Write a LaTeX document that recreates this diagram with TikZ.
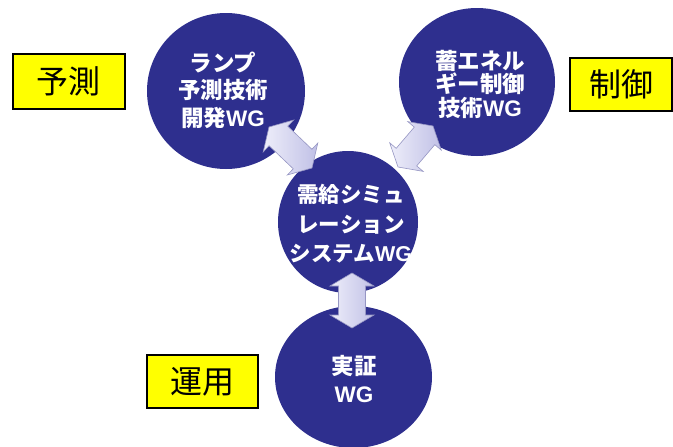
\documentclass[tikz,border=0pt]{standalone}
\usepackage{fontspec}
\newfontfamily\jp{Noto Sans CJK JP}
\newfontfamily\lat{Liberation Sans}
\usetikzlibrary{calc,shapes.geometric}
\definecolor{navy}{RGB}{46,47,142}
\definecolor{arrowlite}{RGB}{238,238,250}
\definecolor{arrowdark}{RGB}{192,192,230}
\definecolor{arrowedge}{RGB}{150,150,195}
\definecolor{boxyellow}{RGB}{255,255,0}
\newcommand\WG{{\lat\bfseries WG}}
\tikzset{
  wg/.style={ellipse, fill=navy, draw=none, inner sep=0pt},
  wgtext/.style={text=white, align=center, inner sep=0pt},
  tag/.style={draw=black, line width=1.3pt, fill=boxyellow, inner sep=0pt,
    font=\jp\fontsize{32}{34}\selectfont},
  barrow/.style={draw=arrowedge, line width=0.6pt, line join=miter,
    left color=arrowlite, right color=arrowdark},
}
\newcommand\blockarrow[2]{%
  \path let \p1=($(#2)-(#1)$), \n1={atan2(\y1,\x1)}, \n2={veclen(\x1,\y1)} in
    \pgfextra{\xdef\baang{\n1}\xdef\balen{\n2}};
  \begin{scope}[shift={($(#1)!0.5!(#2)$)}, rotate=\baang]
    \pgfmathsetmacro\bah{0.5*\balen}
    \pgfmathsetmacro\bab{0.5*\balen-13}
    \draw[barrow] (-\bah,0) -- (-\bab,22) -- (-\bab,13.5) -- (\bab,13.5)
      -- (\bab,22) -- (\bah,0) -- (\bab,-22) -- (\bab,-13.5)
      -- (-\bab,-13.5) -- (-\bab,-22) -- cycle;
  \end{scope}}
\begin{document}
\begin{tikzpicture}[x=1pt,y=-1pt]
\useasboundingbox[fill=white] (0,0) rectangle (673,447);
% circles
\node[wg, minimum width=158pt, minimum height=156pt] (tl) at (226,91) {};
\node[wg, minimum width=156pt, minimum height=148pt] (tr) at (477,82) {};
\node[wg, minimum width=140pt, minimum height=142pt] (ce) at (348,222) {};
\node[wg, minimum width=157pt, minimum height=142pt] (bo) at (353.5,377) {};
% arrow end points
\coordinate (a1s) at (269,127);
\coordinate (a1e) at (312,168);
\coordinate (a2s) at (433,126);
\coordinate (a2e) at (398,167);
\coordinate (a3s) at (352,273);
\coordinate (a3e) at (352,328);
\blockarrow{a1s}{a1e}
\blockarrow{a2s}{a2e}
\blockarrow{a3s}{a3e}
% texts
\node[wgtext, font=\jp\bfseries\fontsize{22.5}{27.5}\selectfont] (tlt) at (223,90)
  {ランプ\\予測技術\\開発\WG};
\node[wgtext, font=\jp\bfseries\fontsize{22.5}{23.5}\selectfont] (trt) at (480,84)
  {蓄エネル\\ギー制御\\技術\WG};
\node[wgtext, font=\jp\bfseries\fontsize{21.5}{29.5}\selectfont] (cet) at (351,224)
  {需給シミュ\\レーション\\システム\WG};
\node[wgtext, font=\jp\bfseries\fontsize{22.5}{28}\selectfont] (bot) at (354,379)
  {実証\\\WG};
% yellow tags
\node[tag, minimum width=112pt, minimum height=55pt] (yosoku) at (69,81.5) {予測};
\node[tag, minimum width=102pt, minimum height=53pt] (seigyo) at (621,84.5) {制御};
\node[tag, minimum width=111pt, minimum height=53pt] (unyo) at (202.5,381.5) {運用};
\end{tikzpicture}
\end{document}
